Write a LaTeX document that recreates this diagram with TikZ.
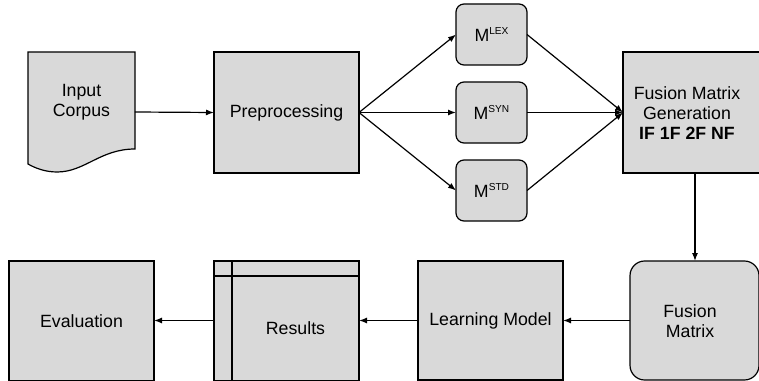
\documentclass[tikz,border=0pt]{standalone}
\usepackage{fontspec}
\setmainfont{Liberation Sans}
\usetikzlibrary{arrows.meta}
\definecolor{boxgray}{HTML}{D9D9D9}
\newcommand{\msup}[1]{M\raisebox{5.6pt}{\fontsize{7.6}{9}\selectfont #1}}
\begin{document}
\begin{tikzpicture}[x=0.75pt,y=-0.75pt,
  font=\fontsize{13.3}{15.2}\selectfont,
  every node/.style={inner sep=0pt,outer sep=0pt},
  box/.style={draw=black,line width=0.9pt,fill=boxgray,rectangle,align=center},
  rbox/.style={box,rounded corners=6pt},
  txt/.style={align=center},
  arr/.style={line width=0.9pt,-{Latex[length=6pt,width=4.5pt]}}]
\useasboundingbox (0,0) rectangle (759,381);
% Input Corpus document shape
\fill[boxgray] (28,52) -- (135,52) -- (135,149) .. controls (100,149) and (85,172) .. (57,172) .. controls (45,172) and (35,168) .. (28,164) -- cycle;
\draw[line width=0.9pt] (28,52) -- (135,52) -- (135,149) .. controls (100,149) and (85,172) .. (57,172) .. controls (45,172) and (35,168) .. (28,164) -- cycle;
\node[minimum width=80pt,minimum height=90pt] (input) at (81.5,112) {};
\node[txt] (inputtxt) at (81.5,102) {Input\\Corpus};
% Preprocessing
\node[box,minimum width=108.75pt,minimum height=90.75pt] (pre) at (286.5,112.5) {Preprocessing};
% M boxes
\node[rbox,minimum width=53.25pt,minimum height=45.75pt] (mlex) at (491.5,34.5) {\msup{LEX}};
\node[rbox,minimum width=53.25pt,minimum height=45.75pt] (msyn) at (491.5,112.5) {\msup{SYN}};
\node[rbox,minimum width=53.25pt,minimum height=45.75pt] (mstd) at (491.5,190.5) {\msup{STD}};
% Fusion Matrix Generation
\node[box,minimum width=102.75pt,minimum height=90.75pt] (fmg) at (691.5,112.5) {};
\node[txt] (fmgtxt) at (687,113) {Fusion Matrix\\Generation\\\textbf{IF 1F 2F NF}};
% bottom row
\node[box,rounded corners=11pt,minimum width=96.75pt,minimum height=89.25pt] (fm) at (694.5,320.5) {};
\node[txt] (fmtxt) at (690,321) {Fusion\\Matrix};
\node[box,minimum width=108.75pt,minimum height=89.25pt] (lm) at (490.5,320.5) {Learning Model};
\node[box,minimum width=108.75pt,minimum height=90pt] (res) at (286.5,321) {};
\draw[line width=0.9pt] (232,261) -- (232,381);
\draw[line width=0.9pt] (214,276) -- (359,276);
\node (restxt) at (295.5,328.5) {Results};
\node[box,minimum width=108.75pt,minimum height=90pt] (eval) at (81.5,321) {Evaluation};
% connectors
\draw[arr] (input.east) -- (pre.west);
\draw[arr] (pre.east) -- (mlex.west);
\draw[arr] (pre.east) -- (msyn.west);
\draw[arr] (pre.east) -- (mstd.west);
\draw[arr] (mlex.east) -- (fmg.west);
\draw[arr] (msyn.east) -- (fmg.west);
\draw[arr] (mstd.east) -- (fmg.west);
\draw[arr] (fmg.south -| 695,0) -- (fm.north -| 695,0);
\draw[arr] (fm.west) -- (lm.east);
\draw[arr] (lm.west) -- (res.east |- lm.west);
\draw[arr] (res.west |- lm.west) -- (eval.east |- lm.west);
\end{tikzpicture}
\end{document}
